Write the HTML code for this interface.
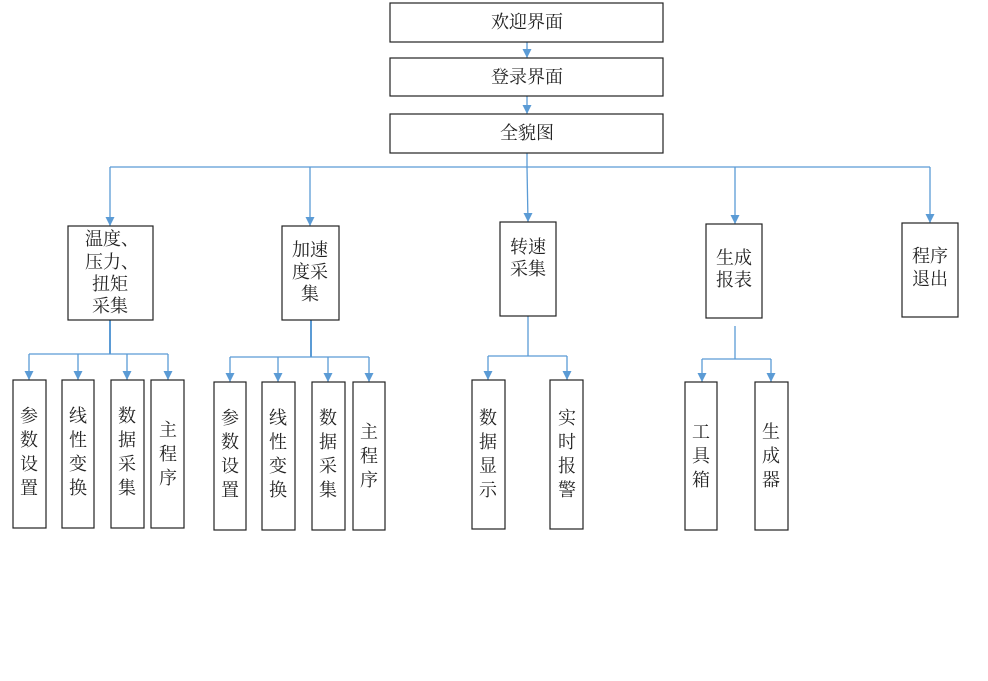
<!DOCTYPE html>
<html><head><meta charset="utf-8"><style>
body{margin:0;background:#fff}
svg text{font-family:"Liberation Serif","Noto Serif CJK SC","Noto Sans CJK SC",serif;font-size:18px;fill:#222}
</style></head><body>
<svg width="988" height="676" viewBox="0 0 988 676" xmlns="http://www.w3.org/2000/svg">
<defs>
<marker id="b" markerWidth="10" markerHeight="10" refX="5" refY="9" markerUnits="userSpaceOnUse"><path d="M0.5,0 L9.5,0 L5,9 z" fill="#5b9bd5"/></marker></defs>
<g fill="none" stroke="#5b9bd5" stroke-width="1.3">
<path d="M527 42V58" marker-end="url(#b)"/><path d="M527 96V114" marker-end="url(#b)"/>
<path d="M527 153V167"/><path d="M110 167H930"/>
<path d="M110 167V226" marker-end="url(#b)"/><path d="M310 167V226" marker-end="url(#b)"/>
<path d="M527 167L528 222" marker-end="url(#b)"/><path d="M735 167V224" marker-end="url(#b)"/>
<path d="M930 167V223" marker-end="url(#b)"/>
<path d="M110 320V354" stroke-width="2"/><path d="M29 354H168"/>
<path d="M29 354V380" marker-end="url(#b)"/><path d="M78 354V380" marker-end="url(#b)"/><path d="M127 354V380" marker-end="url(#b)"/><path d="M168 354V380" marker-end="url(#b)"/>
<path d="M311 320V357" stroke-width="2"/><path d="M230 357H369"/>
<path d="M230 357V382" marker-end="url(#b)"/><path d="M278 357V382" marker-end="url(#b)"/><path d="M328 357V382" marker-end="url(#b)"/><path d="M369 357V382" marker-end="url(#b)"/>
<path d="M528 316V356"/><path d="M488 356H567"/>
<path d="M488 356V380" marker-end="url(#b)"/><path d="M567 356V380" marker-end="url(#b)"/>
<path d="M735 326V359"/><path d="M702 359H771"/>
<path d="M702 359V382" marker-end="url(#b)"/><path d="M771 359V382" marker-end="url(#b)"/>
</g>
<g fill="#fff" stroke="#222" stroke-width="1.2">
<rect x="390" y="3" width="273" height="39"/><rect x="390" y="58" width="273" height="38"/><rect x="390" y="114" width="273" height="39"/>
<rect x="68" y="226" width="85" height="94"/><rect x="282" y="226" width="57" height="94"/><rect x="500" y="222" width="56" height="94"/><rect x="706" y="224" width="56" height="94"/><rect x="902" y="223" width="56" height="94"/>
<rect x="13" y="380" width="33" height="148"/><rect x="62" y="380" width="32" height="148"/><rect x="111" y="380" width="33" height="148"/><rect x="151" y="380" width="33" height="148"/>
<rect x="214" y="382" width="32" height="148"/><rect x="262" y="382" width="33" height="148"/><rect x="312" y="382" width="33" height="148"/><rect x="353" y="382" width="32" height="148"/>
<rect x="472" y="380" width="33" height="149"/><rect x="550" y="380" width="33" height="149"/>
<rect x="685" y="382" width="32" height="148"/><rect x="755" y="382" width="33" height="148"/>
</g>
<g text-anchor="middle">
<text x="527" y="28">欢迎界面</text><text x="527" y="83">登录界面</text><text x="527" y="139">全貌图</text>
<text x="112" y="245">温度、</text><text x="112" y="268">压力、</text><text x="110" y="290">扭矩</text><text x="110" y="312">采集</text>
<text x="310" y="256">加速</text><text x="310" y="278">度采</text><text x="310" y="300">集</text>
<text x="528" y="253">转速</text><text x="528" y="275">采集</text>
<text x="734" y="264">生成</text><text x="734" y="286">报表</text>
<text x="930" y="262">程序</text><text x="930" y="285">退出</text>
</g>
<g text-anchor="middle">
<text x="29" y="422">参</text><text x="29" y="446">数</text><text x="29" y="470">设</text><text x="29" y="494">置</text>
<text x="78" y="422">线</text><text x="78" y="446">性</text><text x="78" y="470">变</text><text x="78" y="494">换</text>
<text x="127" y="422">数</text><text x="127" y="446">据</text><text x="127" y="470">采</text><text x="127" y="494">集</text>
<text x="168" y="436">主</text><text x="168" y="460">程</text><text x="168" y="484">序</text>
<text x="230" y="424">参</text><text x="230" y="448">数</text><text x="230" y="472">设</text><text x="230" y="496">置</text>
<text x="278" y="424">线</text><text x="278" y="448">性</text><text x="278" y="472">变</text><text x="278" y="496">换</text>
<text x="328" y="424">数</text><text x="328" y="448">据</text><text x="328" y="472">采</text><text x="328" y="496">集</text>
<text x="369" y="438">主</text><text x="369" y="462">程</text><text x="369" y="486">序</text>
<text x="488" y="424">数</text><text x="488" y="448">据</text><text x="488" y="472">显</text><text x="488" y="496">示</text>
<text x="567" y="424">实</text><text x="567" y="448">时</text><text x="567" y="472">报</text><text x="567" y="496">警</text>
<text x="701" y="438">工</text><text x="701" y="462">具</text><text x="701" y="486">箱</text>
<text x="771" y="438">生</text><text x="771" y="462">成</text><text x="771" y="486">器</text>
</g>
</svg>
</body></html>
